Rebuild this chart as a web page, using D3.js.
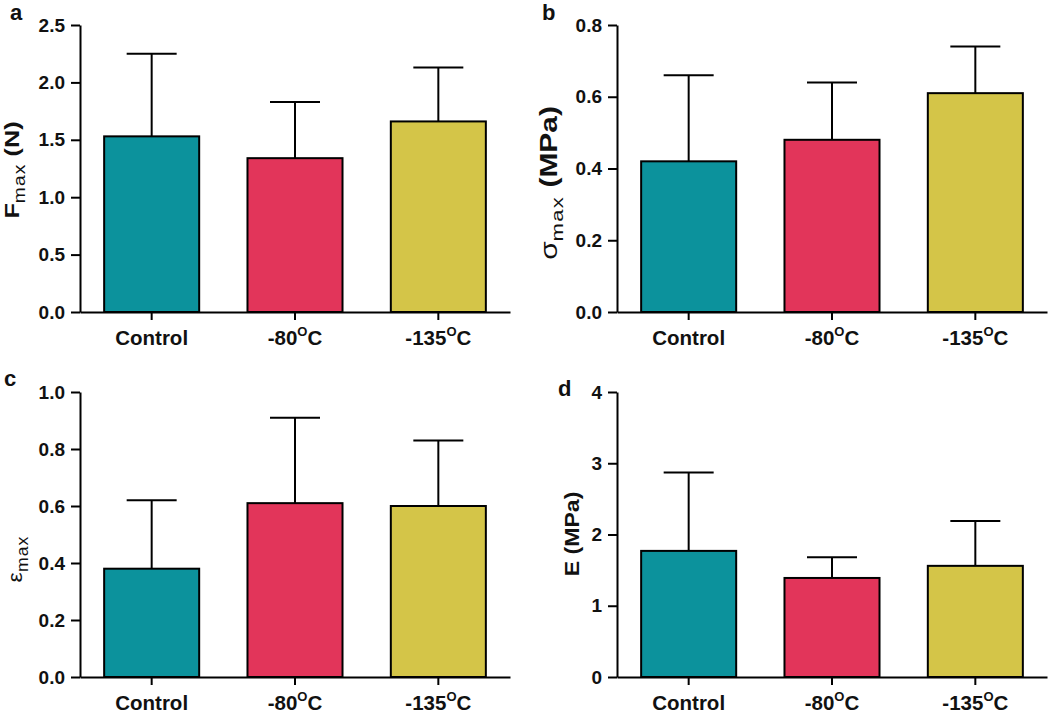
<!DOCTYPE html>
<html><head><meta charset="utf-8">
<script src="https://cdn.jsdelivr.net/npm/d3@7"></script>
<style>body{margin:0;background:#fff}svg{display:block}text{font-family:"Liberation Sans",Arial,sans-serif}</style>
</head><body><svg id="c" width="1050" height="714"></svg>
<script>
const categories = ["Control", "-80", "-135"];
const catSuffix = ["", "C", "C"];
const colors = ["#0c929c", "#e2355a", "#d4c548"];
// panel a: Fmax (N)
const fmaxMean = [1.53, 1.34, 1.66];
const fmaxSD = [0.72, 0.49, 0.47];
const fmaxTicks = [0, 0.5, 1.0, 1.5, 2.0, 2.5];
// panel b: sigma max (MPa)
const sigmaMean = [0.42, 0.48, 0.61];
const sigmaSD = [0.24, 0.16, 0.13];
const sigmaTicks = [0, 0.2, 0.4, 0.6, 0.8];
// panel c: epsilon max
const epsMean = [0.38, 0.61, 0.60];
const epsSD = [0.24, 0.30, 0.23];
const epsTicks = [0, 0.2, 0.4, 0.6, 0.8, 1.0];
// panel d: E (MPa)
const eMean = [1.77, 1.39, 1.56];
const eSD = [1.10, 0.29, 0.63];
const eTicks = [0, 1, 2, 3, 4];

const svg = d3.select("#c");

const panels = [
  {letter:"a", mean:fmaxMean, sd:fmaxSD, ticks:fmaxTicks, fmt:d3.format(".1f"), x0:80, y0:25, y1:312, lx:10, ly:20, tx:19, ty:170, sc:1.2,
   title:[["F","b",21,0,0],["max","n",16,6,1],[" (N)","b",21,0,0]]},
  {letter:"b", mean:sigmaMean, sd:sigmaSD, ticks:sigmaTicks, fmt:d3.format(".1f"), x0:617, y0:25, y1:312, lx:542, ly:20, tx:557, ty:183, sc:1.3,
   title:[["σ","n",23,0,0],["max","n",17,6,1],[" (MPa)","b",23,0,0]]},
  {letter:"c", mean:epsMean, sd:epsSD, ticks:epsTicks, fmt:d3.format(".1f"), x0:80, y0:392, y1:677, lx:4, ly:386, tx:22, ty:559, sc:1.1,
   title:[["ε","n",21,0,0],["max","n",16,6,1]]},
  {letter:"d", mean:eMean, sd:eSD, ticks:eTicks, fmt:d3.format("d"), x0:617, y0:392, y1:677, lx:558, ly:396, tx:579, ty:534, sc:1.1,
   title:[["E (MPa)","b",21,0,0]]}
];

panels.forEach(p => {
  const x = d3.scaleBand().domain(categories).range([p.x0, p.x0 + 430]).paddingInner(0.337).paddingOuter(0.1685);
  const y = d3.scaleLinear().domain([0, p.ticks[p.ticks.length-1]]).range([p.y1, p.y0]);
  const g = svg.append("g");

  // bars
  g.selectAll("rect.bar").data(categories).join("rect")
    .attr("x", d => x(d)).attr("width", x.bandwidth())
    .attr("y", (d,i) => y(p.mean[i])).attr("height", (d,i) => y(0) - y(p.mean[i]))
    .attr("fill", (d,i) => colors[i]).attr("stroke", "#000").attr("stroke-width", 2);

  // error bars
  categories.forEach((c,i) => {
    const cx = x(c) + x.bandwidth()/2;
    g.append("line").attr("x1", cx).attr("x2", cx).attr("y1", y(p.mean[i])).attr("y2", y(p.mean[i] + p.sd[i]))
      .attr("stroke", "#000").attr("stroke-width", 2);
    g.append("line").attr("x1", cx - 25).attr("x2", cx + 25).attr("y1", y(p.mean[i] + p.sd[i])).attr("y2", y(p.mean[i] + p.sd[i]))
      .attr("stroke", "#000").attr("stroke-width", 2);
  });

  // y axis
  const ya = g.append("g").attr("transform", `translate(${p.x0},0)`)
    .call(d3.axisLeft(y).tickValues(p.ticks).tickFormat(p.fmt).tickSize(9).tickSizeOuter(0).tickPadding(6));
  ya.select(".domain").attr("stroke-width", 2);
  ya.selectAll(".tick line").attr("stroke-width", 2);
  ya.selectAll("text").attr("font-size", 19).attr("font-weight", "bold").attr("fill", "#111");

  // x axis
  const xa = g.append("g").attr("transform", `translate(0,${p.y1})`)
    .call(d3.axisBottom(x).tickSize(8).tickSizeOuter(0).tickFormat(""));
  xa.select(".domain").attr("stroke-width", 2);
  xa.selectAll(".tick line").attr("stroke-width", 2);

  // x labels
  categories.forEach((c,i) => {
    const t = g.append("text").attr("x", x(c) + x.bandwidth()/2).attr("y", p.y1 + 33)
      .attr("text-anchor", "middle").attr("font-size", 20.5).attr("font-weight", "bold").attr("fill", "#111");
    t.append("tspan").text(c);
    if (catSuffix[i]) {
      t.append("tspan").attr("font-size", 13).attr("dy", -9).text("O");
      t.append("tspan").attr("dy", 9).text(catSuffix[i]);
    }
  });

  // y title
  const tt = g.append("text").attr("transform", `translate(${p.tx},${p.ty}) rotate(-90) scale(${p.sc},1)`)
    .attr("text-anchor", "middle").attr("fill", "#111");
  let prev = 0;
  p.title.forEach(([s, w, fs, dy, ls]) => {
    tt.append("tspan").text(s).attr("font-weight", w === "b" ? "bold" : "normal")
      .attr("font-size", fs).attr("letter-spacing", ls).attr("dy", dy - prev);
    prev = dy;
  });

  // panel letter
  g.append("text").attr("x", p.lx).attr("y", p.ly).attr("font-size", 22).attr("font-weight", "bold").attr("fill", "#111").text(p.letter);
});
</script>
</body></html>
